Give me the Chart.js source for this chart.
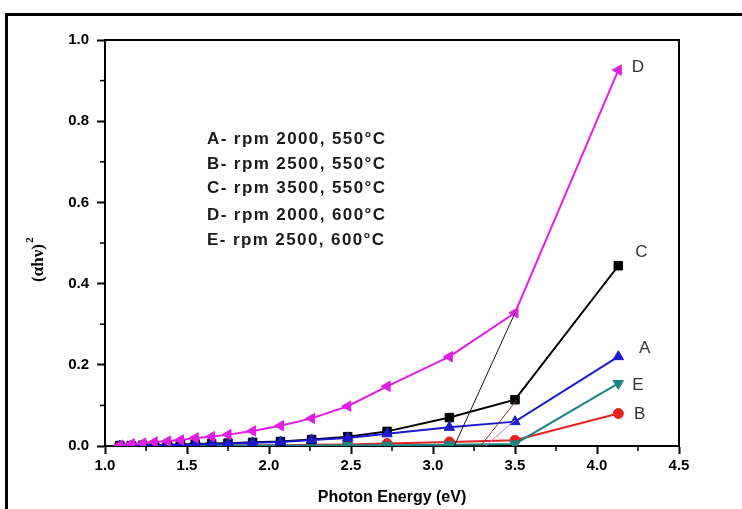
<!DOCTYPE html>
<html><head><meta charset="utf-8">
<script src="https://cdn.jsdelivr.net/npm/chart.js@4.4.1/dist/chart.umd.min.js"></script>
<style>
html,body{margin:0;padding:0;background:#fff;overflow:hidden;}
#wrap{position:relative;width:742px;height:509px;overflow:hidden;}
#frame{position:absolute;left:5px;top:13px;width:800px;height:600px;border:3px solid #000;box-sizing:border-box;pointer-events:none;}
canvas{position:absolute;left:0;top:0;}
</style></head><body>
<div id="wrap"><canvas id="c" width="742" height="509"></canvas><div id="frame"></div></div>
<script>
// Photon energy (eV)
const energy = [1.09,1.16,1.23,1.30,1.38,1.46,1.55,1.65,1.75,1.90,2.07,2.26,2.48,2.72,3.10,3.50,4.13];
// (alpha h nu)^2 values
const seriesD = [0.002,0.005,0.007,0.010,0.012,0.015,0.020,0.023,0.028,0.037,0.050,0.068,0.098,0.147,0.220,0.328,0.926];
const seriesC = [0.001,0.001,0.002,0.002,0.003,0.004,0.005,0.006,0.007,0.009,0.011,0.016,0.023,0.036,0.070,0.114,0.444];
const seriesA = [0.000,0.000,0.001,0.001,0.002,0.003,0.004,0.005,0.006,0.008,0.010,0.015,0.020,0.030,0.046,0.060,0.220];
const seriesE = [0.000,0.000,0.000,0.000,0.000,0.000,0.001,0.001,0.001,0.001,0.001,0.001,0.002,0.002,0.003,0.005,0.154];
const seriesB = [0.000,0.000,0.000,0.000,0.000,0.001,0.001,0.001,0.001,0.002,0.002,0.003,0.004,0.006,0.010,0.014,0.080];
// Tangent (extrapolation) lines: [x0, y0, x1, y1]
const tangentD = [3.13, 0, 3.50, 0.328];
const tangentC = [3.29, 0, 3.51, 0.113];
const tangentA = [3.32, 0, 3.50, 0.064];
// Curve labels
const curveNames = ['D','C','A','E','B'];
const curveLabelX = [4.25,4.27,4.29,4.25,4.26];
const curveLabelY = [0.933,0.478,0.241,0.150,0.079];
// Legend text
const legendLines = ['A- rpm 2000, 550\u00B0C','B- rpm 2500, 550\u00B0C','C- rpm 3500, 550\u00B0C','D- rpm 2000, 600\u00B0C','E- rpm 2500, 600\u00B0C'];
const xTitle = 'Photon Energy (eV)';
const yTitle = '(\u03B1h\u03BD)';
const yTitleSup = '2';
const xMinor = [1.25,1.75,2.25,2.75,3.25,3.75,4.25];
const yMinor = [0.1,0.3,0.5,0.7,0.9];

const pts = ys => energy.map((x,i)=>({x, y: ys[i]}));
const seg = t => [{x:t[0],y:t[1]},{x:t[2],y:t[3]}];

const extras = {
  id:'extras',
  afterDraw(chart){
    const ctx = chart.ctx, xs = chart.scales.x, ys = chart.scales.y, a = chart.chartArea;
    ctx.save();
    ctx.strokeStyle = '#000';
    ctx.lineWidth = 2;
    ctx.beginPath();
    ctx.moveTo(a.left, a.top); ctx.lineTo(a.right, a.top); ctx.lineTo(a.right, a.bottom);
    ctx.stroke();
    ctx.lineWidth = 1.5;
    xMinor.forEach(v=>{const p=xs.getPixelForValue(v); ctx.beginPath(); ctx.moveTo(p,a.bottom); ctx.lineTo(p,a.bottom+5); ctx.stroke();});
    yMinor.forEach(v=>{const p=ys.getPixelForValue(v); ctx.beginPath(); ctx.moveTo(a.left,p); ctx.lineTo(a.left-5,p); ctx.stroke();});
    // curve labels
    ctx.fillStyle = '#333';
    ctx.font = '17px "Liberation Sans", Arial, sans-serif';
    ctx.textAlign = 'center'; ctx.textBaseline = 'middle';
    curveNames.forEach((n,i)=>ctx.fillText(n, xs.getPixelForValue(curveLabelX[i]), ys.getPixelForValue(curveLabelY[i])));
    // legend text
    ctx.fillStyle = '#1a1a1a';
    ctx.font = 'bold 17px "Liberation Sans", Arial, sans-serif';
    ctx.textAlign = 'left';
    try { ctx.letterSpacing = '1.4px'; } catch(e){}
    const ly = [139,164,188,215,240];
    legendLines.forEach((t,i)=>ctx.fillText(t, 207, ly[i]));
    try { ctx.letterSpacing = '0px'; } catch(e){}
    // y title
    ctx.translate(39, 258);
    ctx.rotate(-Math.PI/2);
    ctx.fillStyle = '#000';
    ctx.font = 'bold 17px "Liberation Serif", "Times New Roman", serif';
    ctx.textAlign = 'center';
    const w = ctx.measureText(yTitle).width;
    ctx.fillText(yTitle, -5, 0);
    ctx.font = 'bold 11px "Liberation Serif", serif';
    ctx.fillText(yTitleSup, -5 + w/2 + 4, -9);
    ctx.restore();
  }
};

const ds = (label, ys, color, style, rot, r, order) => ({
  label, data: pts(ys), borderColor: color, backgroundColor: color,
  borderWidth: 2, pointStyle: style, rotation: rot, pointRadius: r,
  pointBorderWidth: 1, pointBorderColor: color, tension: 0, order
});
const tan = (t, color, order) => ({
  data: seg(t), borderColor: color, borderWidth: 1, pointRadius: 0, tension: 0, order
});

new Chart(document.getElementById('c'), {
  type: 'line',
  data: { datasets: [
    ds('D', seriesD, '#e21ee2', 'triangle', 270, 6, 1),
    ds('C', seriesC, '#000000', 'rect', 0, 6, 3),
    ds('A', seriesA, '#1a1acc', 'triangle', 0, 6, 2),
    ds('E', seriesE, '#1a8585', 'triangle', 180, 6, 4),
    ds('B', seriesB, '#e2231f', 'circle', 0, 5, 5),
    tan(tangentD, '#111111', 0),
    tan(tangentC, '#8a3a3a', 0),
    tan(tangentA, '#e070c0', 0)
  ]},
  options: {
    responsive: false, animation: false,
    layout: { padding: { top: 40, right: 63, left: 0, bottom: 0 } },
    plugins: { legend: { display: false }, tooltip: { enabled: false } },
    scales: {
      x: {
        type: 'linear', min: 1, max: 4.5,
        afterFit: s => { s.height = 63; },
        ticks: { stepSize: 0.5, callback: v => v.toFixed(1), color: '#000', padding: 3,
                 font: { family: '"Liberation Sans", Arial, sans-serif', size: 15, weight: 'bold' }, maxRotation: 0 },
        grid: { drawOnChartArea: false, tickLength: 8, tickWidth: 2, tickColor: '#000' },
        border: { color: '#000', width: 2 },
        title: { display: true, text: xTitle, color: '#000', padding: { top: 0, bottom: 2 },
                 font: { family: '"Liberation Sans", Arial, sans-serif', size: 16, weight: 'bold' } }
      },
      y: {
        type: 'linear', min: 0, max: 1,
        afterFit: s => { s.width = 105; },
        ticks: { stepSize: 0.2, callback: v => v.toFixed(1), color: '#000', padding: 8,
                 font: { family: '"Liberation Sans", Arial, sans-serif', size: 15, weight: 'bold' } },
        grid: { drawOnChartArea: false, tickLength: 8, tickWidth: 2, tickColor: '#000' },
        border: { color: '#000', width: 2 }
      }
    }
  },
  plugins: [extras]
});
</script>
</body></html>
